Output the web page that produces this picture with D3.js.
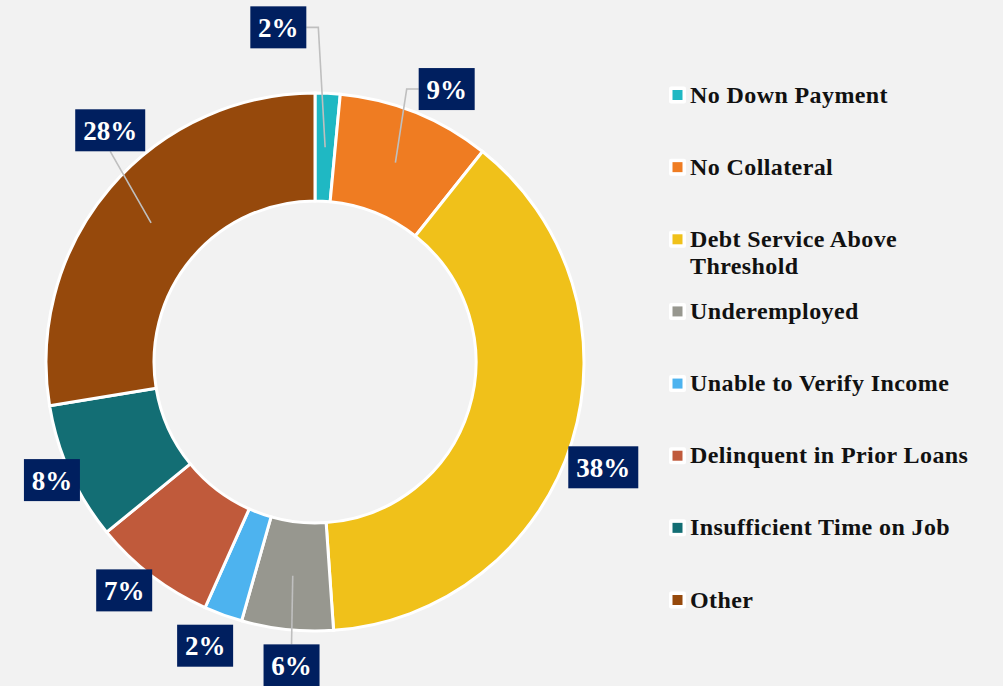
<!DOCTYPE html>
<html>
<head>
<meta charset="utf-8">
<script src="https://cdn.jsdelivr.net/npm/d3@7"></script>
<style>
  html, body { margin: 0; padding: 0; background: #f2f2f2; }
  svg { display: block; }
</style>
</head>
<body>
<svg id="chart" width="1003" height="686"></svg>
<script>
// Loan denial reasons, share of all denials (%)
const categories = [
  "No Down Payment",
  "No Collateral",
  "Debt Service Above Threshold",
  "Underemployed",
  "Unable to Verify Income",
  "Delinquent in Prior Loans",
  "Insufficient Time on Job",
  "Other"
];
const shares = [1.5, 9.2, 38.2, 5.5, 2.3, 7.4, 8.3, 27.6];
const colors = ["#1fb8c3", "#ef7c22", "#f0c11a", "#97978f", "#4db3ef", "#c05a3b", "#136e74", "#96490c"];

// Label placement: shift from the default radial spot, and leader style
const labelShift = [[-51, -31], [18, 9], [-2, 15], [8, 1], [-6, -2], [-6, -13], [14, -7], [27, -35]];
const leaderKind = ["elbowLeft", "elbowRight", null, "straight", null, null, null, "straight"];

const W = 1003, H = 686;
const cx = 315, cy = 362, outerR = 269, innerR = 161, labelR = 304;
const serif = "'Liberation Serif', 'Times New Roman', serif";

const svg = d3.select("#chart");
svg.append("rect").attr("width", W).attr("height", H).attr("fill", "#f2f2f2");

const data = categories.map((c, i) => ({ name: c, value: shares[i], color: colors[i], i }));
const total = d3.sum(shares);

const pie = d3.pie().value(d => d.value).sort(null);
const arc = d3.arc().innerRadius(innerR).outerRadius(outerR);
const midArc = d3.arc().innerRadius((innerR + outerR) / 2).outerRadius((innerR + outerR) / 2);
const labelArc = d3.arc().innerRadius(labelR).outerRadius(labelR);

const arcs = pie(data);
const g = svg.append("g").attr("transform", `translate(${cx},${cy})`);

g.selectAll("path.slice")
  .data(arcs)
  .join("path")
  .attr("class", "slice")
  .attr("d", arc)
  .attr("fill", d => d.data.color)
  .attr("stroke", "#ffffff")
  .attr("stroke-width", 3)
  .attr("stroke-linejoin", "miter");

// Data labels
const boxH = 42;
const labels = arcs.map(a => {
  const [bx, by] = labelArc.centroid(a);
  const s = labelShift[a.data.i];
  const text = Math.round(a.data.value / total * 100) + "%";
  return { a, text, x: bx + s[0], y: by + s[1], w: text.length === 2 ? 56 : 70, c: midArc.centroid(a) };
});

// Leader lines
const leaderG = g.append("g");
labels.forEach(l => {
  const kind = leaderKind[l.a.data.i];
  if (!kind) return;
  let pts;
  if (kind === "elbowLeft") {
    const ex = l.x + l.w / 2;
    pts = [l.c, [ex + 12, l.y], [ex, l.y]];
  } else if (kind === "elbowRight") {
    const ex = l.x - l.w / 2;
    pts = [l.c, [ex - 12, l.y], [ex, l.y]];
  } else {
    const ey = l.c[1] < l.y ? l.y - boxH / 2 : l.y + boxH / 2;
    pts = [l.c, [l.x, ey]];
  }
  leaderG.append("path")
    .attr("d", d3.line()(pts))
    .attr("fill", "none")
    .attr("stroke", "#bfbfbf")
    .attr("stroke-width", 1.6);
});

const lab = g.selectAll("g.lab").data(labels).join("g")
  .attr("class", "lab")
  .attr("transform", d => `translate(${d.x},${d.y})`);
lab.append("rect")
  .attr("x", d => -d.w / 2).attr("y", -boxH / 2)
  .attr("width", d => d.w).attr("height", boxH)
  .attr("fill", "#001f5f");
lab.append("text")
  .attr("text-anchor", "middle")
  .attr("dy", "0.35em")
  .attr("fill", "#ffffff")
  .attr("font-family", serif)
  .attr("font-weight", "bold")
  .attr("font-size", 27)
  .text(d => d.text);

// Legend
const legendY = d3.scalePoint().domain(categories).range([95, 600]);
const legend = svg.append("g");
const item = legend.selectAll("g").data(data).join("g")
  .attr("transform", d => `translate(669,${legendY(d.name)})`);
item.append("rect")
  .attr("x", 0).attr("y", -8.5).attr("width", 17).attr("height", 17)
  .attr("rx", 2).attr("fill", "#ffffff");
item.append("rect")
  .attr("x", 3.5).attr("y", -5).attr("width", 10).attr("height", 10)
  .attr("fill", d => d.color);

const maxW = 300;
item.each(function (d) {
  const t = d3.select(this).append("text")
    .attr("x", 21).attr("y", 7.5)
    .attr("fill", "#111111")
    .attr("font-family", serif)
    .attr("font-weight", "bold")
    .attr("font-size", 24)
    .attr("letter-spacing", 0.4);
  const words = d.name.split(" ");
  let line = [];
  let tspan = t.append("tspan").attr("x", 21).attr("dy", 0);
  words.forEach(w => {
    line.push(w);
    tspan.text(line.join(" "));
    if (tspan.node().getComputedTextLength() > maxW && line.length > 1) {
      line.pop();
      tspan.text(line.join(" "));
      line = [w];
      tspan = t.append("tspan").attr("x", 21).attr("dy", 27).text(w);
    }
  });
});
</script>
</body>
</html>
